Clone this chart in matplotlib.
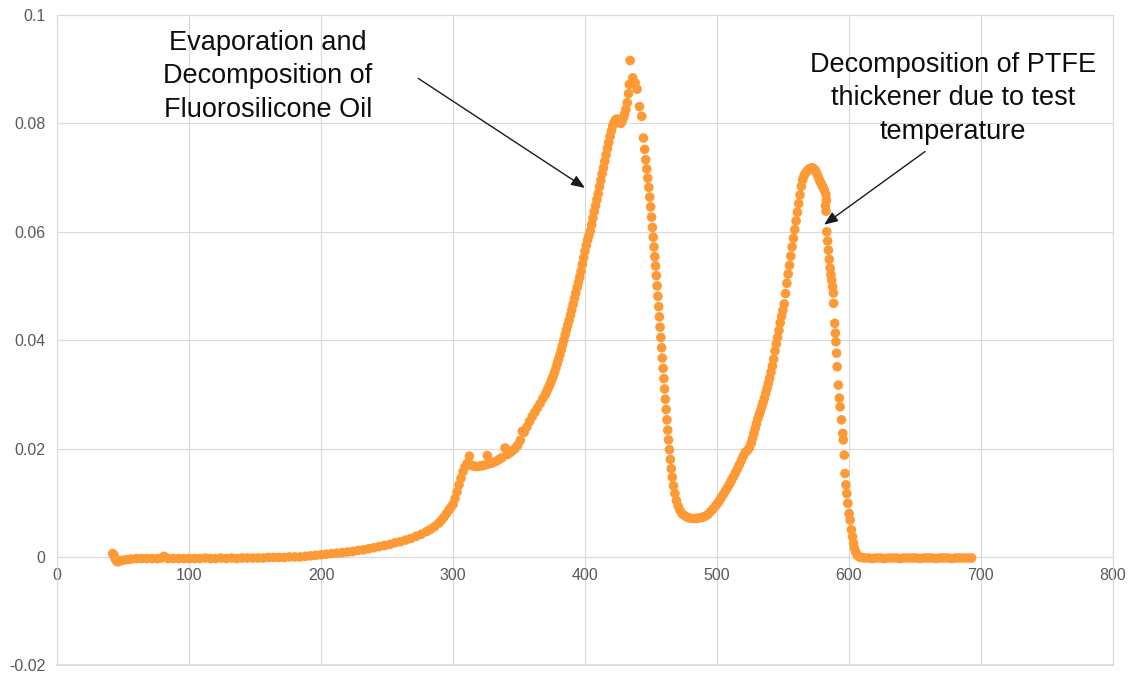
import numpy as np
import matplotlib.pyplot as plt

plt.rcParams['font.family'] = ['Liberation Sans', 'DejaVu Sans']

# TGA derivative signal of the grease sample, split into the stages of the run
# baseline before any mass loss
temp_base = [42, 43, 44, 45, 46, 48, 50, 53, 56, 60, 64, 68, 72, 76, 79, 81, 84, 88, 92, 96, 100,
             104, 108, 112, 116, 120, 124, 128, 132, 136, 140,
             144, 148, 152, 156, 160, 164, 168, 172, 176, 180,
             184, 188, 192, 196, 200, 204, 208, 212, 216, 220, 224, 228, 232, 236, 240,
             244, 248, 252, 256, 260, 264, 268, 272, 276, 280, 283, 286, 289]
dtg_base = [0.0006, 0.0003, -0.0004, -0.0008, -0.0009, -0.0007, -0.0006, -0.0005, -0.0004, -0.0003,
            -0.0003, -0.0003, -0.0003, -0.0003, -0.0002, 0.0001, -0.0003, -0.0003, -0.0003, -0.0003, -0.0003,
            -0.0003, -0.0003, -0.0002, -0.0003, -0.0003, -0.0002, -0.0003, -0.0002, -0.0003, -0.0002,
            -0.0002, -0.0002, -0.0002, -0.0002, -0.0001, -0.0001, -0.0001, -0.0001, 0.0000, 0.0000,
            0.0000, 0.0001, 0.0002, 0.0003, 0.0004, 0.0005, 0.0006, 0.0007, 0.0008, 0.0009, 0.0010,
            0.0012, 0.0013, 0.0015, 0.0017, 0.0019, 0.0021, 0.0023, 0.0026, 0.0028, 0.0031, 0.0034,
            0.0038, 0.0042, 0.0047, 0.0051, 0.0056, 0.0062]

# oil evaporation / decomposition, rising side
temp_oil_up = [291, 293, 295, 297, 298.5, 300, 301.5, 303, 304.5, 306, 307.5, 309, 310.5, 312.4,
               313.5, 315, 317, 319, 321, 323, 325, 326, 327.5, 329, 331, 333, 335, 337, 339.4,
               341, 343, 345, 347, 349, 351, 352.5, 354, 356, 358, 360, 362, 364, 366, 368,
               370, 371, 372, 373, 374, 375, 376, 377, 378, 379, 380, 381, 382, 383, 384, 385,
               386, 387, 388, 389, 390, 391, 392, 393, 394, 395, 396, 397, 398, 399, 400, 401,
               402, 403, 404, 405, 406, 407, 408, 409, 410, 411, 412, 413, 414, 415, 416, 417,
               418, 419, 420, 421, 422, 423, 424, 425, 426, 427, 428, 429, 430, 431, 432, 433,
               433.6, 434.2]
dtg_oil_up = [0.0067, 0.0073, 0.0080, 0.0087, 0.0092, 0.0097, 0.0108, 0.0120, 0.0133, 0.0145,
              0.0157, 0.0166, 0.0172, 0.0186,
              0.0170, 0.0168, 0.0167, 0.0167, 0.0168, 0.0169, 0.0170, 0.0187, 0.0172, 0.0173,
              0.0175, 0.0177, 0.0180, 0.0183, 0.0201,
              0.0189, 0.0192, 0.0196, 0.0200, 0.0206, 0.0215, 0.0232, 0.0230, 0.0240, 0.0250,
              0.0259, 0.0267, 0.0275, 0.0283, 0.0292,
              0.0300, 0.0305, 0.0311, 0.0316, 0.0322, 0.0328, 0.0334, 0.0341, 0.0349, 0.0357,
              0.0365, 0.0373, 0.0382, 0.0391, 0.0400, 0.0410,
              0.0419, 0.0428, 0.0437, 0.0446, 0.0456, 0.0466, 0.0477, 0.0487, 0.0497, 0.0506,
              0.0516, 0.0527, 0.0540, 0.0552, 0.0564, 0.0575,
              0.0585, 0.0593, 0.0601, 0.0613, 0.0625, 0.0637, 0.0648, 0.0659, 0.0670, 0.0683,
              0.0695, 0.0707, 0.0718, 0.0730, 0.0742, 0.0754,
              0.0765, 0.0776, 0.0786, 0.0795, 0.0801, 0.0806, 0.0808, 0.0805, 0.0802, 0.0800,
              0.0803, 0.0810, 0.0817, 0.0826, 0.0838, 0.0855,
              0.0872, 0.0916]

# oil peak falling side and the valley between the two events
temp_oil_down = [436.2, 438, 439.5, 441.3, 443, 444.3, 445.2, 446.0, 446.8, 447.6, 448.4, 449.1,
                 449.8, 450.5, 451.1, 451.7, 452.3, 452.9, 453.5, 454.1, 454.7, 455.3, 455.9,
                 456.4, 456.9, 457.5, 458.1, 458.6, 459.2, 459.8, 460.3, 460.9, 461.5, 462.1,
                 462.7, 463.3, 464.0, 464.7, 465.4, 466.2, 467.1, 468.1, 469.3, 470.6, 472.0,
                 473.5, 475, 477, 479, 481, 483, 485, 487, 489, 491, 493, 495, 497]
dtg_oil_down = [0.0884, 0.0875, 0.0863, 0.0831, 0.0813, 0.0773, 0.0752, 0.0733, 0.0716, 0.0699,
                0.0682, 0.0664, 0.0646, 0.0627, 0.0608, 0.0590, 0.0572, 0.0554, 0.0537, 0.0519,
                0.0500, 0.0481, 0.0462, 0.0443, 0.0424, 0.0405, 0.0386, 0.0367, 0.0348, 0.0329,
                0.0310, 0.0291, 0.0272, 0.0253, 0.0234, 0.0216, 0.0198, 0.0180, 0.0163, 0.0147,
                0.0131, 0.0117, 0.0104, 0.0094, 0.0086, 0.0080, 0.0077, 0.0074, 0.0072, 0.0071,
                0.0071, 0.0071, 0.0072, 0.0073, 0.0075, 0.0078, 0.0083, 0.0088]

# PTFE thickener decomposition, rising side
temp_ptfe_up = [499, 500.5, 502, 503.5, 505, 506.5, 508, 509.5, 511, 512.5, 514, 515.5, 517,
                518.5, 520, 521.5, 523, 524.5, 526, 527, 528, 529, 530, 531, 532, 533, 534, 535,
                536, 537, 538, 539, 540, 541, 542, 543, 544, 545, 546, 547, 548, 549, 550, 551,
                552, 553, 554, 555, 556, 557, 558, 559, 560, 561, 562, 563, 564, 565, 566, 567,
                568, 569, 570, 571, 572, 573, 574, 575, 576, 577, 578, 579, 580]
dtg_ptfe_up = [0.0094, 0.0099, 0.0104, 0.0110, 0.0116, 0.0122, 0.0128, 0.0134, 0.0141, 0.0148,
               0.0155, 0.0162, 0.0170, 0.0178, 0.0186, 0.0193, 0.0196, 0.0201, 0.0210, 0.0219,
               0.0228, 0.0237, 0.0246, 0.0255, 0.0262, 0.0269, 0.0277, 0.0285, 0.0293, 0.0302,
               0.0311, 0.0320, 0.0330, 0.0341, 0.0352, 0.0365, 0.0380, 0.0393, 0.0405, 0.0418,
               0.0432, 0.0444, 0.0455, 0.0467, 0.0486, 0.0505, 0.0522, 0.0538, 0.0555, 0.0572,
               0.0588, 0.0604, 0.0620, 0.0636, 0.0652, 0.0668, 0.0684, 0.0696, 0.0703, 0.0708,
               0.0711, 0.0714, 0.0716, 0.0717, 0.0718, 0.0717, 0.0715, 0.0711, 0.0706, 0.0700,
               0.0694, 0.0689, 0.0684]

# PTFE peak falling side
temp_ptfe_down = [580.5, 581.5, 582.6, 583.0, 582.2, 582.7, 583.3, 583.9, 584.5, 585.2, 585.8,
                  586.4, 587.0, 587.7, 588.3, 588.5, 589.3, 589.8, 590.2, 590.7, 591.1, 592.0,
                  592.8, 593.4, 594.4, 595.4, 595.8, 596.5, 597.1, 597.8, 598.4, 599.2, 600.2,
                  601.0, 602.0, 602.8, 603.6, 604.4, 605.3, 606.5, 608, 610]
dtg_ptfe_down = [0.0682, 0.0676, 0.0669, 0.0658, 0.0648, 0.0638, 0.0600, 0.0583, 0.0566, 0.0549,
                 0.0533, 0.0521, 0.0511, 0.0499, 0.0487, 0.0468, 0.0431, 0.0413, 0.0397, 0.0376,
                 0.0351, 0.0317, 0.0293, 0.0277, 0.0253, 0.0228, 0.0216, 0.0188, 0.0154, 0.0133,
                 0.0117, 0.0099, 0.0080, 0.0068, 0.0050, 0.0037, 0.0025, 0.0015, 0.0008, 0.0003,
                 0.0000, -0.0001]

# residue after the run
temp_tail = [612, 615, 618, 621, 624, 627, 630, 633, 636, 639, 642, 645, 648, 651, 654, 657,
             660, 663, 666, 669, 672, 675, 678, 681, 684, 687, 690, 693]
dtg_tail = [-0.0002, -0.0002, -0.0003, -0.0002, -0.0002, -0.0003, -0.0002, -0.0002, -0.0002,
            -0.0003, -0.0002, -0.0002, -0.0002, -0.0002, -0.0003, -0.0002, -0.0002, -0.0002,
            -0.0003, -0.0002, -0.0002, -0.0002, -0.0003, -0.0002, -0.0002, -0.0002, -0.0002,
            -0.0002]

x_ticks = [0, 100, 200, 300, 400, 500, 600, 700, 800]
y_ticks = [-0.02, 0, 0.02, 0.04, 0.06, 0.08, 0.1]
y_tick_labels = ['-0.02', '0', '0.02', '0.04', '0.06', '0.08', '0.1']

label_oil = 'Evaporation and\nDecomposition of\nFluorosilicone Oil'
label_ptfe = 'Decomposition of PTFE\nthickener due to test\ntemperature'

temp = np.concatenate([temp_base, temp_oil_up, temp_oil_down, temp_ptfe_up, temp_ptfe_down, temp_tail])
dtg = np.concatenate([dtg_base, dtg_oil_up, dtg_oil_down, dtg_ptfe_up, dtg_ptfe_down, dtg_tail])

grid_color = '#d9d9d9'
text_gray = '#595959'

fig = plt.figure(figsize=(11.29, 6.73), dpi=100)
ax = fig.add_axes([0.05075, 0.01144, 0.93481, 0.96627])

ax.scatter(temp, dtg, s=48, color='#fd9a35', edgecolors='none', zorder=3)

ax.set_xlim(0, 800)
ax.set_ylim(-0.02, 0.1)
ax.set_xticks(x_ticks)
ax.set_yticks(y_ticks)
ax.set_yticklabels(y_tick_labels)
ax.grid(True, color=grid_color, linewidth=0.8, zorder=0)
ax.set_axisbelow(True)

# horizontal axis crosses at zero, frame drawn in grid colour
for side in ['left', 'right', 'top', 'bottom']:
    ax.spines[side].set_color(grid_color)
    ax.spines[side].set_linewidth(0.8)
ax.spines['bottom'].set_position(('data', 0))
ax.axhline(-0.02, color=grid_color, linewidth=1.2, clip_on=False, zorder=0)
ax.tick_params(axis='x', length=0, pad=8, labelsize=11.5, labelcolor=text_gray)
ax.tick_params(axis='y', length=0, pad=8.5, labelsize=11.5, labelcolor=text_gray)

arrow = dict(arrowstyle='-|>,head_length=0.55,head_width=0.22', color='#1a1a1a', lw=1.0,
             shrinkA=0, shrinkB=0, mutation_scale=15)
ax.text(159.7, 0.0887, label_oil, ha='center', va='center', fontsize=19.5, linespacing=1.385,
        color='#0d0d0d', zorder=4)
ax.annotate('', xy=(400, 0.0681), xytext=(273.6, 0.0883), arrowprops=arrow, zorder=4)
ax.text(679, 0.0846, label_ptfe, ha='center', va='center', fontsize=19.5, linespacing=1.385,
        color='#0d0d0d', zorder=4)
ax.annotate('', xy=(581.2, 0.0613), xytext=(657.7, 0.0748), arrowprops=arrow, zorder=4)

plt.savefig('out.png', dpi=100)
plt.close()
